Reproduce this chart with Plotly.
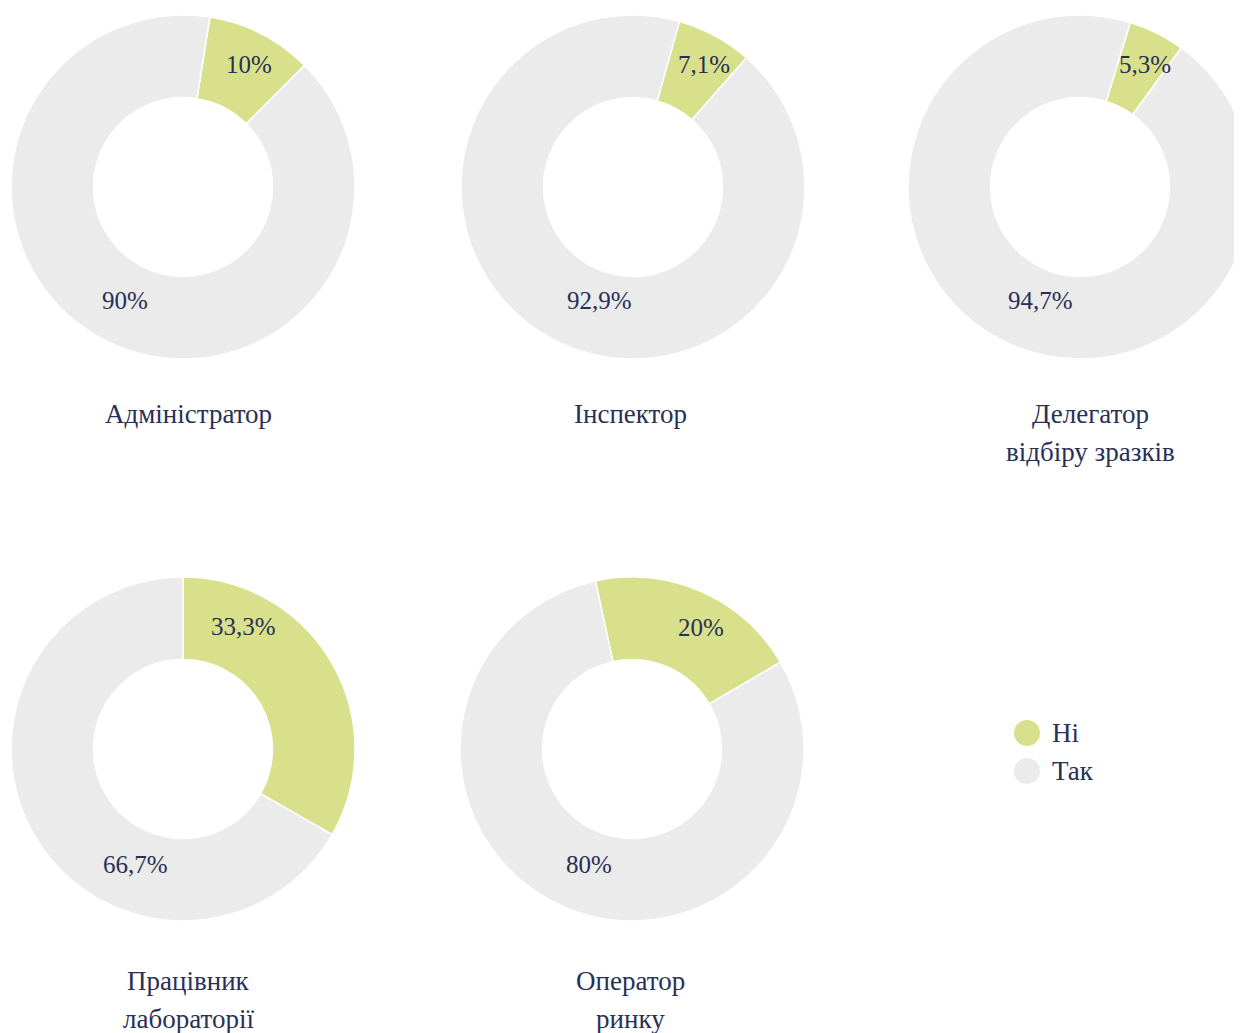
import plotly.graph_objects as go

# ---- data ----
categories = ["Ні", "Так"]
roles = [["Адміністратор"], ["Інспектор"], ["Делегатор", "відбіру зразків"],
         ["Працівник", "лабораторії"], ["Оператор", "ринку"]]
ni_values = [10, 7.1, 5.3, 33.3, 20]
tak_values = [90, 92.9, 94.7, 66.7, 80]

# ---- style / layout (page pixel positions) ----
OFF = 8  # default body margin of the html page
W, H = 1260, 1050
colors = ["#d9e08b", "#ebebeb"]
text_color = "#283055"
font_family = "Liberation Serif"
centers = [(183, 187), (633, 187), (1080, 187), (183, 749), (632, 749)]
R = 172
rotations = [9, 15.7, 17, 0, -12.3]
ni_label_pos = [(249, 65), (704, 64), (1145, 64), (243, 626), (701, 627)]
tak_label_pos = [(125, 301), (599, 301), (1040, 301), (135, 864), (589, 864)]
title_pos = [(188, 414), (630, 414), (1090, 414), (188, 981), (630, 981)]
title_line_gap = 38


def px_x(x):
    return (x - OFF) / W


def px_y(y):
    return 1 - (y - OFF) / H


def fmt(v):
    return f"{v:g}".replace(".", ",") + "%"


fig = go.Figure()
annotations = []
for i, (ni, tak) in enumerate(zip(ni_values, tak_values)):
    cx, cy = centers[i]
    fig.add_trace(go.Pie(
        labels=categories,
        values=[ni, tak],
        textinfo="none",
        hole=0.52,
        sort=False,
        direction="clockwise",
        rotation=rotations[i],
        marker=dict(colors=colors, line=dict(color="white", width=1.5)),
        domain=dict(x=[px_x(cx - R), px_x(cx + R)],
                    y=[px_y(cy + R), px_y(cy - R)]),
        showlegend=False,
        hoverinfo="label+percent",
    ))
    for (lx, ly), v in ((ni_label_pos[i], ni), (tak_label_pos[i], tak)):
        annotations.append(dict(
            text=fmt(v), x=px_x(lx), y=px_y(ly), xref="paper", yref="paper",
            xanchor="center", yanchor="middle", showarrow=False,
            font=dict(family=font_family, size=25, color=text_color),
        ))

for (tx, ty), lines in zip(title_pos, roles):
    for j, line in enumerate(lines):
        annotations.append(dict(
            text=line, x=px_x(tx), y=px_y(ty + j * title_line_gap),
            xref="paper", yref="paper",
            xanchor="center", yanchor="middle", showarrow=False,
            font=dict(family=font_family, size=27, color=text_color),
        ))

# legend (manual, circular markers)
shapes = []
legend_x, legend_y0, legend_dy = 1027, 733, 38
for k, (lab, col) in enumerate(zip(categories, colors)):
    ly = legend_y0 + k * legend_dy
    shapes.append(dict(type="circle", xref="paper", yref="paper",
                       xsizemode="pixel", ysizemode="pixel",
                       xanchor=px_x(legend_x), yanchor=px_y(ly),
                       x0=-13, x1=13, y0=-13, y1=13,
                       fillcolor=col, line=dict(width=0)))
    annotations.append(dict(
        text=lab, x=px_x(legend_x + 23), y=px_y(ly), xref="paper", yref="paper",
        xanchor="left", yanchor="middle", showarrow=False,
        font=dict(family=font_family, size=27, color=text_color),
    ))

fig.update_layout(
    width=W, height=H,
    margin=dict(l=0, r=0, t=0, b=0),
    paper_bgcolor="white", plot_bgcolor="white",
    annotations=annotations, shapes=shapes,
)

fig.write_html(
    "out.html",
    post_script=(
        "var s=document.createElement('style');"
        "s.textContent='html,body{overflow:hidden !important;}"
        "::-webkit-scrollbar{display:none;width:0;height:0;}';"
        "document.head.appendChild(s);"
    ),
)
